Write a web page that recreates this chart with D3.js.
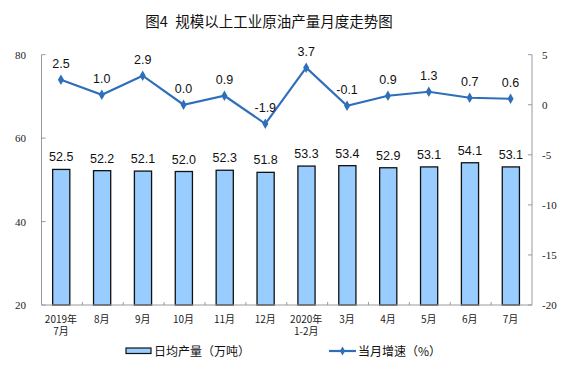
<!DOCTYPE html>
<html>
<head>
<meta charset="utf-8">
<script src="https://cdn.jsdelivr.net/npm/d3@7"></script>
<style>
  body { margin: 0; background: #fff; }
  svg { display: block; }
</style>
</head>
<body>
<svg id="chart" width="576" height="384"></svg>
<script>
const months = ['2019年|7月', '8月', '9月', '10月', '11月', '12月', '2020年|1-2月', '3月', '4月', '5月', '6月', '7月'];
const output = [52.5, 52.2, 52.1, 52.0, 52.3, 51.8, 53.3, 53.4, 52.9, 53.1, 54.1, 53.1];
const growth = [2.5, 1.0, 2.9, 0.0, 0.9, -1.9, 3.7, -0.1, 0.9, 1.3, 0.7, 0.6];
const leftTicks = [20, 40, 60, 80];
const rightTicks = [-20, -15, -10, -5, 0, 5];

const svg = d3.select('#chart');
const plotL = 41.5, plotR = 532, plotT = 54.7, plotB = 305;

const x = d3.scaleBand().domain(months).range([plotL, plotR]).paddingInner(0.58).paddingOuter(0.29);
const band = d3.scaleBand().domain(months).range([plotL, plotR]);
const yL = d3.scaleLinear().domain([20, 80]).range([plotB, plotT]);
const yR = d3.scaleLinear().domain([-20, 5]).range([plotB, plotT]);

const blue = '#2F6FBA';
const axisCol = '#9a9a9a';

// title
svg.append('text')
    .attr('x', 269).attr('y', 27)
    .attr('text-anchor', 'middle')
    .style('white-space', 'pre')
    .style('font-family', '"Noto Sans CJK SC", sans-serif')
    .style('font-size', '14.5px')
    .style('fill', '#111')
    .text('图4\u2002规模以上工业原油产量月度走势图');

// bars
svg.selectAll('rect.bar')
    .data(output)
    .enter().append('rect')
    .attr('class', 'bar')
    .attr('x', (d, i) => x(months[i]) - 0.7)
    .attr('y', d => yL(d))
    .attr('width', x.bandwidth())
    .attr('height', d => plotB - yL(d))
    .style('fill', '#99CCFF')
    .style('stroke', '#111')
    .style('stroke-width', 1.3);

svg.selectAll('text.barlab')
    .data(output)
    .enter().append('text')
    .attr('x', (d, i) => x(months[i]) - 0.7 + x.bandwidth() / 2)
    .attr('y', d => yL(d) - 8)
    .attr('text-anchor', 'middle')
    .style('font-family', 'Arial, "Liberation Sans", sans-serif')
    .style('font-size', '12.5px')
    .style('fill', '#111')
    .text(d => d.toFixed(1));

// axes
const g = svg.append('g').style('stroke', axisCol).style('stroke-width', 1);
g.append('line').attr('x1', plotL).attr('x2', plotL).attr('y1', plotT).attr('y2', plotB);
g.append('line').attr('x1', plotR).attr('x2', plotR).attr('y1', plotT).attr('y2', plotB);
g.append('line').attr('x1', plotL).attr('x2', plotR).attr('y1', plotB).attr('y2', plotB);
g.selectAll('line.lt').data(leftTicks).enter().append('line')
    .attr('x1', plotL).attr('x2', plotL + 4)
    .attr('y1', d => yL(d)).attr('y2', d => yL(d));
g.selectAll('line.rt').data(rightTicks).enter().append('line')
    .attr('x1', plotR - 4).attr('x2', plotR)
    .attr('y1', d => yR(d)).attr('y2', d => yR(d));
g.selectAll('line.bt').data(months.slice(1)).enter().append('line')
    .attr('x1', d => band(d)).attr('x2', d => band(d))
    .attr('y1', plotB).attr('y2', plotB - 3);

svg.selectAll('text.lt').data(leftTicks).enter().append('text')
    .attr('x', 26).attr('y', d => yL(d) + 4)
    .attr('text-anchor', 'end')
    .style('font-family', '"Liberation Serif", serif')
    .style('font-size', '11px')
    .style('fill', '#222')
    .text(d => d);

svg.selectAll('text.rt').data(rightTicks).enter().append('text')
    .attr('x', 542).attr('y', d => yR(d) + 4)
    .attr('text-anchor', 'start')
    .style('font-family', '"Liberation Serif", serif')
    .style('font-size', '11px')
    .style('fill', '#222')
    .text(d => d);

// category labels, two-line ones as separate texts
months.forEach(m => {
    const cx = band(m) + band.bandwidth() / 2 - 1;
    m.split('|').forEach((p, k) => {
        svg.append('text')
            .attr('x', cx)
            .attr('y', 322.5 + k * 12)
            .attr('text-anchor', 'middle')
            .style('font-family', '"Noto Sans CJK SC", sans-serif')
            .style('font-size', '10px')
            .style('fill', '#222')
            .text(p);
    });
});

// line
const pts = growth.map((v, i) => [band(months[i]) + band.bandwidth() / 2 - 1, yR(v)]);
svg.append('path')
    .datum(pts)
    .attr('d', d3.line())
    .style('fill', 'none')
    .style('stroke', blue)
    .style('stroke-width', 2.2);

svg.selectAll('path.mk').data(pts).enter().append('path')
    .attr('d', d3.symbol(d3.symbolDiamond, 32))
    .attr('transform', d => `translate(${d[0]},${d[1]})`)
    .style('fill', blue);

svg.selectAll('text.gl').data(growth).enter().append('text')
    .attr('x', (d, i) => pts[i][0])
    .attr('y', (d, i) => pts[i][1] - 12)
    .attr('text-anchor', 'middle')
    .style('font-family', 'Arial, "Liberation Sans", sans-serif')
    .style('font-size', '12.5px')
    .style('fill', '#111')
    .text(d => d.toFixed(1));

// legend
svg.append('rect')
    .attr('x', 126).attr('y', 348).attr('width', 25).attr('height', 5.5)
    .style('fill', '#99CCFF').style('stroke', '#111').style('stroke-width', 1.2);
svg.append('text')
    .attr('x', 154).attr('y', 355.5)
    .style('font-family', '"Noto Sans CJK SC", sans-serif')
    .style('font-size', '12px').style('fill', '#111')
    .text('日均产量（万吨）');
svg.append('line')
    .attr('x1', 329).attr('x2', 356).attr('y1', 351).attr('y2', 351)
    .style('stroke', blue).style('stroke-width', 2.2);
svg.append('path')
    .attr('d', d3.symbol(d3.symbolDiamond, 24))
    .attr('transform', 'translate(342.5,351)')
    .style('fill', blue);
svg.append('text')
    .attr('x', 358).attr('y', 355.5)
    .style('font-family', '"Noto Sans CJK SC", sans-serif')
    .style('font-size', '12px').style('fill', '#111')
    .text('当月增速（%）');
</script>
</body>
</html>
